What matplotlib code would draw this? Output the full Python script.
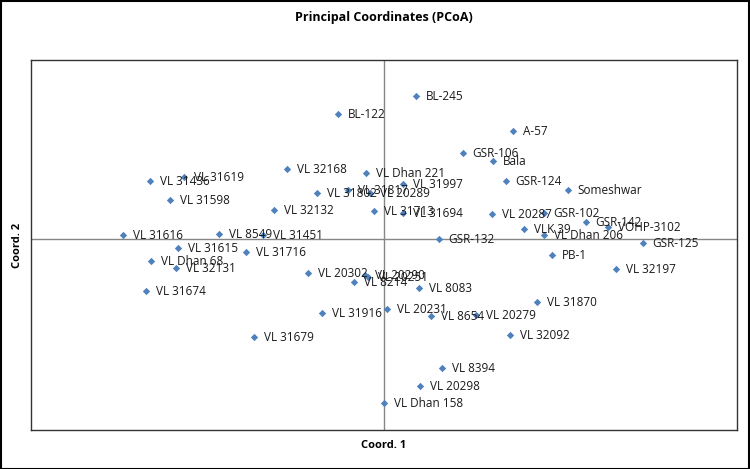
import numpy as np
import matplotlib.pyplot as plt
from matplotlib.patches import Rectangle

plt.close('all')

# genotype names and PCoA coordinates
names = ['BL-245', 'BL-122', 'A-57', 'GSR-106', 'Bala', 'VL Dhan 221', 'GSR-124',
         'VL 32168', 'VL 31619', 'VL 31436', 'VL 31997', 'VL 31802', 'VL 31817',
         'VL 20289', 'Someshwar', 'VL 31598', 'VL 32132', 'VL 31713', 'VL 31694',
         'VL 20287', 'GSR-102', 'GSR-142', 'VOHP-3102', 'VLK 39', 'VL Dhan 206',
         'GSR-132', 'GSR-125', 'VL 31616', 'VL 8549', 'VL 31451', 'VL 31615',
         'VL 31716', 'VL Dhan 68', 'VL 32131', 'VL 31674', 'PB-1', 'VL 32197',
         'VL 20302', 'VL 20290', 'VL 20251', 'VL 8214', 'VL 8083', 'VL 31870',
         'VL 31916', 'VL 20231', 'VL 8654', 'VL 20279', 'VL 32092', 'VL 31679',
         'VL 8394', 'VL 20298', 'VL Dhan 158']

coord1 = [0.32, -0.46, 1.29, 0.79, 1.09, -0.18, 1.22,
          -0.97, -2.00, -2.34, 0.19, -0.67, -0.36,
          -0.14, 1.84, -2.14, -1.10, -0.10, 0.19,
          1.08, 1.60, 2.02, 2.24, 1.40, 1.60,
          0.55, 2.59, -2.61, -1.65, -1.21, -2.06,
          -1.38, -2.33, -2.08, -2.38, 1.68, 2.32,
          -0.76, -0.19, -0.16, -0.30, 0.35, 1.53,
          -0.62, 0.03, 0.47, 0.92, 1.26, -1.30,
          0.58, 0.36, 0.00]

coord2 = [1.43, 1.25, 1.08, 0.86, 0.78, 0.66, 0.58,
          0.70, 0.62, 0.58, 0.55, 0.46, 0.49,
          0.46, 0.49, 0.39, 0.29, 0.28, 0.26,
          0.25, 0.26, 0.17, 0.12, 0.10, 0.04,
          0.00, -0.04, 0.04, 0.05, 0.04, -0.09,
          -0.13, -0.22, -0.29, -0.52, -0.16, -0.30,
          -0.34, -0.36, -0.38, -0.43, -0.49, -0.63,
          -0.74, -0.70, -0.77, -0.76, -0.96, -0.98,
          -1.29, -1.47, -1.64]

blue = '#4F81BD'

fig = plt.figure(figsize=(7.5, 4.69), dpi=100)
ax = fig.add_axes([31/750, 1 - 430/469, (737 - 31)/750, (430 - 60)/469])

ax.scatter(coord1, coord2, marker='D', s=14, color=blue, zorder=3, linewidths=0)
for n, x, y in zip(names, coord1, coord2):
    ax.annotate(n, (x, y), xytext=(7, 0), textcoords='offset points',
                va='center', ha='left', fontsize=8.5, color='#1a1a1a',
                family='Open Sans', zorder=4)

ax.axhline(0, color='#868686', linewidth=1, zorder=1)
ax.axvline(0, color='#868686', linewidth=1, zorder=1)

ax.set_xlim(-3.53, 3.53)
ax.set_ylim(-1.91, 1.79)
ax.set_xticks([])
ax.set_yticks([])
for s in ax.spines.values():
    s.set_linewidth(1.0)
    s.set_color('#333333')

fig.text(384/750, 1 - 17/469, 'Principal Coordinates (PCoA)', ha='center', va='center',
         fontsize=9, fontweight='bold', family='Open Sans')
fig.text(384/750, 1 - 445/469, 'Coord. 1', ha='center', va='center',
         fontsize=8, fontweight='bold', family='Open Sans')
fig.text(18/750, 1 - 245/469, 'Coord. 2', ha='center', va='center', rotation=90,
         fontsize=8, fontweight='bold', family='Open Sans')

fig.patches.append(Rectangle((0.001, 0.001), 0.997, 0.997, transform=fig.transFigure,
                             fill=False, edgecolor='black', linewidth=1.5))

fig.savefig('out.png', dpi=100)
